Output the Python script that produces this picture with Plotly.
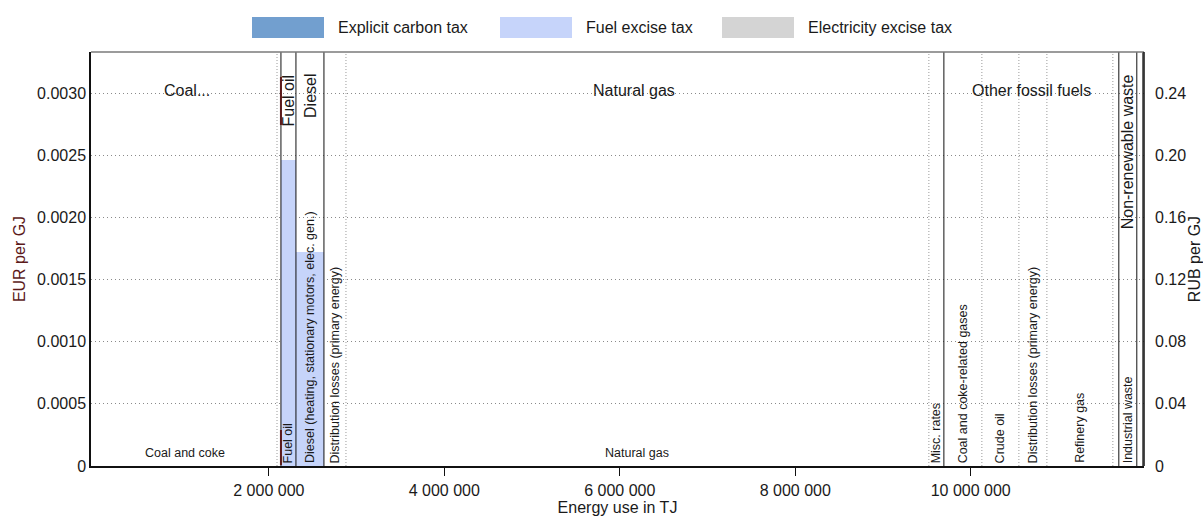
import numpy as np
import plotly.graph_objects as go

# ---- data -------------------------------------------------------------
group_labels = ["Coal...", "Fuel oil", "Diesel", "Natural gas",
                "Other fossil fuels", "Non-renewable waste", ""]

segment_labels = [
    "Coal and coke", "",
    "Fuel oil",
    "Diesel (heating, stationary motors, elec. gen.)",
    "Distribution losses (primary energy)", "Natural gas", "Misc. rates",
    "Coal and coke-related gases", "Crude oil",
    "Distribution losses (primary energy)", "Refinery gas", "",
    "Industrial waste",
    "",
]
segment_group = [0, 0, 1, 2, 3, 3, 3, 4, 4, 4, 4, 4, 5, 6]

# energy use per segment, TJ
energy_tj = [2093000, 45000, 171000, 319000, 251000, 6644000, 171000,
             433000, 422000, 319000, 752000, 68000, 205000, 69000]

# tax rates, EUR per GJ
carbon_tax = [0, 0, 0, 0, 0, 0, 0, 0, 0, 0, 0, 0, 0, 0]
fuel_excise = [0, 0, 0.00246, 0.00172, 0, 0, 0, 0, 0, 0, 0, 0, 0, 0]
elec_excise = [0, 0, 0, 0, 0, 0, 0, 0, 0, 0, 0, 0, 0, 0]

x_tick_vals = [2000000, 4000000, 6000000, 8000000, 10000000]
x_tick_text = ["2 000 000", "4 000 000", "6 000 000", "8 000 000", "10 000 000"]
eur_tick_vals = [0, 0.0005, 0.0010, 0.0015, 0.0020, 0.0025, 0.0030]
eur_tick_text = ["0", "0.0005", "0.0010", "0.0015", "0.0020", "0.0025", "0.0030"]
rub_tick_vals = [0, 0.04, 0.08, 0.12, 0.16, 0.20, 0.24]
rub_tick_text = ["0", "0.04", "0.08", "0.12", "0.16", "0.20", "0.24"]
EUR_TO_RUB = 80

# ---- geometry ---------------------------------------------------------
W, H = 1203, 517
M_L, M_R, M_T, M_B = 91, 59, 52, 51
PLOT_W = W - M_L - M_R
PLOT_H = H - M_T - M_B
X_MIN, X_MAX = -27000, 11975000
Y_MAX = 0.00333
px_per_tj = PLOT_W / (X_MAX - X_MIN)

widths = np.array(energy_tj, dtype=float)
ends = np.cumsum(widths)
starts = ends - widths
centers = starts + widths / 2

FONT = "Liberation Sans, Arial, sans-serif"
TXT = "#1a1a1a"
MAROON = "#5c1a1a"

COL_CARBON = "#729fcf"
COL_FUEL = "#c6d4fa"
COL_ELEC = "#d4d4d4"

# stacked bars: each tax layer sits on the ones below it
carbon = np.array(carbon_tax)
fuel = np.array(fuel_excise)
elec = np.array(elec_excise)
layers = [(carbon, np.zeros_like(carbon), COL_CARBON, "Explicit carbon tax"),
          (fuel, carbon, COL_FUEL, "Fuel excise tax"),
          (elec, carbon + fuel, COL_ELEC, "Electricity excise tax")]

fig = go.Figure()
for vals, base, col, name in layers:
    fig.add_trace(go.Bar(x=centers, y=vals, base=base, width=widths,
                         name=name,
                         marker=dict(color=col, line=dict(width=0)),
                         showlegend=False, hoverinfo="skip"))

# carrier trace for the RUB axis
fig.add_trace(go.Scatter(x=[0], y=[0], yaxis="y2", mode="markers",
                         marker=dict(opacity=0), showlegend=False,
                         hoverinfo="skip"))

shapes = []
annotations = []


def px_to_paper_x(px):
    return (px - M_L) / PLOT_W


def px_to_paper_y(py):
    return (H - M_B - py) / PLOT_H


# separators between segments: solid between fuel groups, dotted inside a group
for i in range(len(energy_tj)):
    x = ends[i]
    last = i == len(energy_tj) - 1
    new_group = last or segment_group[i + 1] != segment_group[i]
    if new_group:
        line = dict(color="#111111", width=1)
    else:
        line = dict(color="#9a9a9a", width=1, dash="1px,2px")
    shapes.append(dict(type="line", xref="x", yref="paper", x0=x, x1=x,
                       y0=0, y1=1, line=line, layer="above"))

# accent on the fuel-oil edge beside its two labels
fo = segment_labels.index("Fuel oil")
for ya, yb in [(77, 125), (430, 465)]:
    shapes.append(dict(type="line", xref="x", yref="paper",
                       x0=starts[fo], x1=starts[fo],
                       y0=px_to_paper_y(yb), y1=px_to_paper_y(ya),
                       line=dict(color=MAROON, width=2), layer="above"))

# frame: top and right borders
shapes.append(dict(type="line", xref="paper", yref="paper", x0=0, x1=1,
                   y0=1, y1=1, line=dict(color="#7a7a7a", width=1.5),
                   layer="above"))
shapes.append(dict(type="line", xref="paper", yref="paper", x0=1, x1=1,
                   y0=0, y1=1, line=dict(color="#111111", width=1.5),
                   layer="above"))

# segment labels along the bottom
for i, lab in enumerate(segment_labels):
    if not lab:
        continue
    wpx = widths[i] * px_per_tj
    if wpx > 100:
        annotations.append(dict(x=centers[i], y=0, xref="x", yref="paper",
                                text=lab, showarrow=False, yanchor="bottom",
                                xanchor="center", yshift=4,
                                font=dict(family=FONT, size=12.5, color=TXT)))
    else:
        annotations.append(dict(x=centers[i], y=0, xref="x", yref="paper",
                                text=lab, showarrow=False, textangle=-90,
                                yanchor="bottom", xanchor="center", yshift=1,
                                font=dict(family=FONT, size=12.5, color=TXT)))

# group labels along the top
for g, lab in enumerate(group_labels):
    if not lab:
        continue
    idx = [i for i, s in enumerate(segment_group) if s == g]
    g0, g1 = starts[idx[0]], ends[idx[-1]]
    gc = (g0 + g1) / 2
    wpx = (g1 - g0) * px_per_tj
    if wpx > 100:
        annotations.append(dict(x=gc, y=0.908, xref="x", yref="paper",
                                text=lab, showarrow=False, yanchor="middle",
                                xanchor="center",
                                font=dict(family=FONT, size=16, color=TXT)))
    else:
        annotations.append(dict(x=gc, y=1, xref="x", yref="paper",
                                text=lab, showarrow=False, textangle=-90,
                                yanchor="top", xanchor="center", yshift=-20,
                                font=dict(family=FONT, size=16, color=TXT)))

# legend drawn as wide colour patches
legend_items = [("Explicit carbon tax", COL_CARBON, 252),
                ("Fuel excise tax", COL_FUEL, 500),
                ("Electricity excise tax", COL_ELEC, 722)]
for name, col, x0 in legend_items:
    shapes.append(dict(type="rect", xref="paper", yref="paper",
                       x0=px_to_paper_x(x0), x1=px_to_paper_x(x0 + 72),
                       y0=px_to_paper_y(38), y1=px_to_paper_y(17),
                       fillcolor=col, line=dict(width=0)))
    annotations.append(dict(x=px_to_paper_x(x0 + 84), y=px_to_paper_y(28),
                            xref="paper", yref="paper", text=name,
                            showarrow=False, xanchor="left", yanchor="middle",
                            font=dict(family=FONT, size=16, color=TXT)))

fig.update_layout(
    width=W, height=H,
    margin=dict(l=M_L, r=M_R, t=M_T, b=M_B, pad=0, autoexpand=False),
    paper_bgcolor="white", plot_bgcolor="white",
    barmode="overlay", bargap=0,
    showlegend=False,
    shapes=shapes, annotations=annotations,
    font=dict(family=FONT, size=16, color=TXT),
    xaxis=dict(range=[X_MIN, X_MAX], tickvals=x_tick_vals,
               ticktext=x_tick_text, ticks="outside", ticklen=8,
               tickcolor="#111111", showgrid=False, zeroline=False,
               showline=True, linecolor="#111111", linewidth=2,
               automargin=False, ticklabelstandoff=1,
               tickfont=dict(family=FONT, size=16, color=TXT),
               title=dict(text="Energy use in TJ", standoff=1,
                          font=dict(family=FONT, size=16, color=TXT))),
    yaxis=dict(range=[0, Y_MAX], tickvals=eur_tick_vals,
               ticktext=eur_tick_text, ticks="", showgrid=True,
               gridcolor="#8a8a8a", griddash="1px,3px", gridwidth=1,
               zeroline=False, showline=True, linecolor="#111111",
               linewidth=1.5, automargin=False,
               tickfont=dict(family=FONT, size=16, color=TXT),
               title=dict(text="EUR per GJ", standoff=8,
                          font=dict(family=FONT, size=16, color=MAROON))),
    yaxis2=dict(range=[0, Y_MAX * EUR_TO_RUB], overlaying="y", side="right",
                tickvals=rub_tick_vals, ticktext=rub_tick_text, ticks="",
                showgrid=False, zeroline=False, showline=False,
                ticklabelstandoff=10, automargin=False,
                tickfont=dict(family=FONT, size=16, color=TXT),
                title=dict(text="RUB per GJ", standoff=4,
                           font=dict(family=FONT, size=16, color=TXT))),
)

fig.write_html("out.html")
